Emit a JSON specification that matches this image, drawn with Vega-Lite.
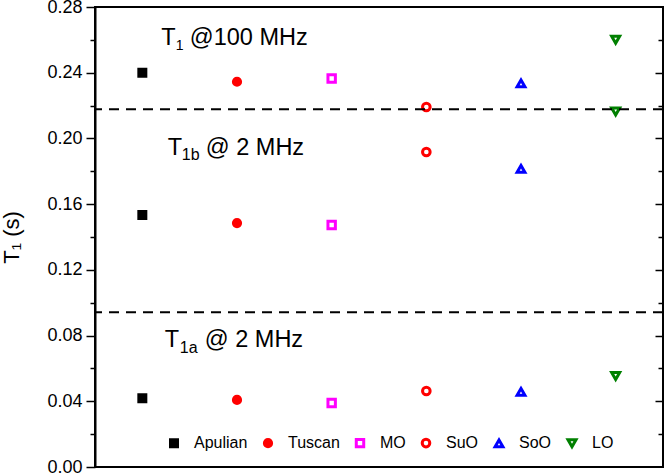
{
  "$schema": "https://vega.github.io/schema/vega-lite/v6.json",
  "width": 568,
  "height": 460,
  "autosize": {"type": "none"},
  "padding": {"left": 95, "top": 7, "right": 3, "bottom": 6},
  "background": "white",
  "config": {
    "view": {"stroke": "black", "strokeWidth": 2},
    "font": "Liberation Sans",
    "axis": {"labelFont": "Liberation Sans", "titleFont": "Liberation Sans", "grid": false, "domainColor": "black", "tickColor": "black", "labelColor": "black", "titleColor": "black"}
  },
  "datasets": {
    "pts": [
      {"sample": "Apulian", "T1": 0.2400},
      {"sample": "Tuscan", "T1": 0.2345},
      {"sample": "MO", "T1": 0.2365},
      {"sample": "SuO", "T1": 0.2191},
      {"sample": "SoO", "T1": 0.2335},
      {"sample": "LO", "T1": 0.2601},
      {"sample": "LO", "T1": 0.2164},
      {"sample": "Apulian", "T1": 0.1534},
      {"sample": "Tuscan", "T1": 0.1485},
      {"sample": "MO", "T1": 0.1473},
      {"sample": "SuO", "T1": 0.1917},
      {"sample": "SoO", "T1": 0.1815},
      {"sample": "Apulian", "T1": 0.0418},
      {"sample": "Tuscan", "T1": 0.0408},
      {"sample": "MO", "T1": 0.0390},
      {"sample": "SuO", "T1": 0.0463},
      {"sample": "SoO", "T1": 0.0457},
      {"sample": "LO", "T1": 0.0554}
    ],
    "lines": [
      {"boundary": "upper", "T1": 0.2177},
      {"boundary": "lower", "T1": 0.0942}
    ],
    "one": [{"label": "annotation"}]
  },
  "encoding": {
    "x": {"field": "sample", "type": "nominal", "sort": ["Apulian", "Tuscan", "MO", "SuO", "SoO", "LO"], "scale": {"type": "point", "padding": 0.5, "domain": ["Apulian", "Tuscan", "MO", "SuO", "SoO", "LO"]}, "axis": null}
  },
  "layer": [
    {
      "data": {"name": "pts"},
      "mark": {"type": "point", "filled": false, "strokeWidth": 3, "opacity": 1},
      "encoding": {
        "y": {"field": "T1", "type": "quantitative", "scale": {"domain": [0, 0.28], "nice": false, "zero": false},
          "axis": {"orient": "left", "values": [0, 0.04, 0.08, 0.12, 0.16, 0.2, 0.24, 0.28], "format": ".2f", "tickSize": 9, "tickWidth": 1.5, "domainWidth": 2, "labelFontSize": 18, "labelPadding": 4, "title": "T₁ (s)", "titleFontSize": 22, "titleFontWeight": "normal", "titlePadding": 23}},
        "shape": {"field": "sample", "type": "nominal", "scale": {"domain": ["Apulian", "Tuscan", "MO", "SuO", "SoO", "LO"], "range": ["square", "circle", "square", "circle", "triangle-up", "triangle-down"]}, "title": null},
        "color": {"field": "sample", "type": "nominal", "scale": {"domain": ["Apulian", "Tuscan", "MO", "SuO", "SoO", "LO"], "range": ["#000000", "#ff0000", "#ff00ff", "#ff0000", "#0000ff", "#008000"]}, "title": null},
        "fill": {"field": "sample", "type": "nominal", "scale": {"domain": ["Apulian", "Tuscan", "MO", "SuO", "SoO", "LO"], "range": ["#000000", "#ff0000", "transparent", "transparent", "transparent", "transparent"]}, "title": null},
        "size": {"field": "sample", "type": "nominal", "scale": {"domain": ["Apulian", "Tuscan", "MO", "SuO", "SoO", "LO"], "range": [49, 64, 106, 121, 265, 265]}, "title": null,
          "legend": {"orient": "none", "direction": "horizontal", "columns": 6, "legendX": 71, "legendY": 428, "labelFontSize": 16, "labelFont": "Liberation Sans", "labelColor": "black", "labelOffset": 12, "columnPadding": 10, "padding": 0, "symbolStrokeWidth": 3, "symbolOpacity": 1}}
      }
    },
    {
      "data": {"name": "lines"},
      "transform": [{"filter": "datum.boundary === 'upper'"}],
      "mark": {"type": "rule", "strokeDash": [10, 7], "strokeWidth": 2, "color": "black"},
      "encoding": {
        "x": null,
        "y": {"field": "T1", "type": "quantitative", "axis": {"orient": "left", "values": [0.02, 0.06, 0.1, 0.14, 0.18, 0.22, 0.26], "tickSize": 5, "tickWidth": 1.5, "labels": false, "domain": false, "title": null}}
      }
    },
    {
      "data": {"name": "lines"},
      "transform": [{"filter": "datum.boundary === 'lower'"}],
      "mark": {"type": "rule", "strokeDash": [10, 7], "strokeWidth": 2, "color": "black"},
      "encoding": {
        "x": null,
        "y": {"field": "T1", "type": "quantitative", "axis": {"orient": "right", "offset": -8, "values": [0.04, 0.08, 0.12, 0.16, 0.2, 0.24], "tickSize": 8, "tickWidth": 1.5, "labels": false, "domain": false, "title": null}}
      }
    },
    {
      "data": {"name": "one"},
      "mark": {"type": "text", "text": "T", "align": "left", "baseline": "alphabetic", "fontSize": 23.5, "dx": 19, "color": "black"},
      "encoding": {
        "x": {"datum": "Apulian"},
        "y": {"datum": 0.2569, "type": "quantitative", "axis": {"orient": "right", "offset": -5, "values": [0.02, 0.06, 0.1, 0.14, 0.18, 0.22, 0.26], "tickSize": 5, "tickWidth": 1.5, "labels": false, "domain": false, "title": null}}
      }
    },
    {
      "data": {"name": "one"},
      "mark": {"type": "text", "text": "1", "align": "left", "baseline": "alphabetic", "fontSize": 14, "dx": 33.5, "dy": 5, "color": "black"},
      "encoding": {"x": {"datum": "Apulian"}, "y": {"datum": 0.2569, "type": "quantitative", "axis": null}}
    },
    {
      "data": {"name": "one"},
      "mark": {"type": "text", "text": "@100 MHz", "align": "left", "baseline": "alphabetic", "fontSize": 23.5, "dx": 47.5, "color": "black"},
      "encoding": {"x": {"datum": "Apulian"}, "y": {"datum": 0.2569, "type": "quantitative", "axis": null}}
    },
    {
      "data": {"name": "one"},
      "mark": {"type": "text", "text": "T", "align": "left", "baseline": "alphabetic", "fontSize": 23.5, "dx": 25.5, "color": "black"},
      "encoding": {"x": {"datum": "Apulian"}, "y": {"datum": 0.1899, "type": "quantitative", "axis": null}}
    },
    {
      "data": {"name": "one"},
      "mark": {"type": "text", "text": "1b", "align": "left", "baseline": "alphabetic", "fontSize": 16, "dx": 39.5, "dy": 5, "color": "black"},
      "encoding": {"x": {"datum": "Apulian"}, "y": {"datum": 0.1899, "type": "quantitative", "axis": null}}
    },
    {
      "data": {"name": "one"},
      "mark": {"type": "text", "text": "@ 2 MHz", "align": "left", "baseline": "alphabetic", "fontSize": 23.5, "dx": 63.5, "color": "black"},
      "encoding": {"x": {"datum": "Apulian"}, "y": {"datum": 0.1899, "type": "quantitative", "axis": null}}
    },
    {
      "data": {"name": "one"},
      "mark": {"type": "text", "text": "T", "align": "left", "baseline": "alphabetic", "fontSize": 23.5, "dx": 22.5, "color": "black"},
      "encoding": {"x": {"datum": "Apulian"}, "y": {"datum": 0.0732, "type": "quantitative", "axis": null}}
    },
    {
      "data": {"name": "one"},
      "mark": {"type": "text", "text": "1a", "align": "left", "baseline": "alphabetic", "fontSize": 16, "dx": 37.5, "dy": 6, "color": "black"},
      "encoding": {"x": {"datum": "Apulian"}, "y": {"datum": 0.0732, "type": "quantitative", "axis": null}}
    },
    {
      "data": {"name": "one"},
      "mark": {"type": "text", "text": "@ 2 MHz", "align": "left", "baseline": "alphabetic", "fontSize": 23.5, "dx": 62.5, "color": "black"},
      "encoding": {"x": {"datum": "Apulian"}, "y": {"datum": 0.0732, "type": "quantitative", "axis": null}}
    }
  ],
  "resolve": {"scale": {"y": "shared"}, "axis": {"y": "independent"}}
}
